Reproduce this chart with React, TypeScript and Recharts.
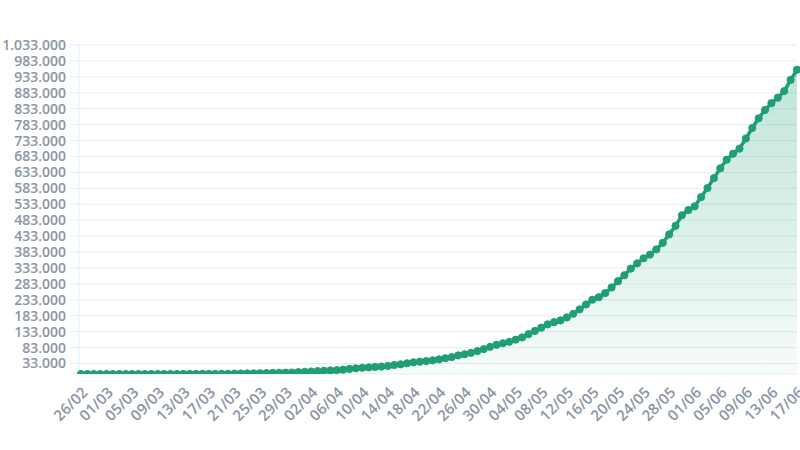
import { AreaChart, Area, XAxis, YAxis, CartesianGrid } from 'recharts'

const DATES = [
  '26/02', '27/02', '28/02', '29/02',
  '01/03', '02/03', '03/03', '04/03', '05/03', '06/03', '07/03', '08/03', '09/03', '10/03',
  '11/03', '12/03', '13/03', '14/03', '15/03', '16/03', '17/03', '18/03', '19/03', '20/03',
  '21/03', '22/03', '23/03', '24/03', '25/03', '26/03', '27/03', '28/03', '29/03', '30/03', '31/03',
  '01/04', '02/04', '03/04', '04/04', '05/04', '06/04', '07/04', '08/04', '09/04', '10/04',
  '11/04', '12/04', '13/04', '14/04', '15/04', '16/04', '17/04', '18/04', '19/04', '20/04',
  '21/04', '22/04', '23/04', '24/04', '25/04', '26/04', '27/04', '28/04', '29/04', '30/04',
  '01/05', '02/05', '03/05', '04/05', '05/05', '06/05', '07/05', '08/05', '09/05', '10/05',
  '11/05', '12/05', '13/05', '14/05', '15/05', '16/05', '17/05', '18/05', '19/05', '20/05',
  '21/05', '22/05', '23/05', '24/05', '25/05', '26/05', '27/05', '28/05', '29/05', '30/05', '31/05',
  '01/06', '02/06', '03/06', '04/06', '05/06', '06/06', '07/06', '08/06', '09/06', '10/06',
  '11/06', '12/06', '13/06', '14/06', '15/06', '16/06', '17/06',
]

const CASES = [
  1, 1, 1, 2,
  2, 2, 2, 4, 8, 13, 19, 20, 25, 31,
  52, 77, 98, 121, 200, 234, 291, 428, 621, 904,
  1128, 1546, 1891, 2201, 2433, 2915, 3417, 3904, 4256, 4579, 5717,
  6836, 7910, 9056, 10278, 11130, 12056, 13717, 15927, 17857, 19638,
  20727, 22169, 23430, 25262, 28320, 30425, 33682, 36599, 38654, 40581,
  43079, 45757, 49492, 52995, 58509, 61888, 66501, 71886, 78162, 85380,
  91589, 96559, 101147, 107780, 114715, 125218, 135106, 145328, 155939, 162699,
  168331, 177589, 188974, 202918, 218223, 233142, 241080, 254220, 271628, 291579,
  310087, 330890, 347398, 363211, 374898, 391222, 411821, 438238, 465166, 498440, 514849,
  526447, 555383, 584016, 614941, 645771, 672846, 691758, 707412, 739503, 772416,
  802828, 828810, 850514, 867624, 888271, 923189, 955377,
]

const Y_TICKS = [
  33000, 83000, 133000, 183000, 233000, 283000, 333000, 383000, 433000, 483000, 533000,
  583000, 633000, 683000, 733000, 783000, 833000, 883000, 933000, 983000, 1033000,
]

const data = DATES.map((d, i) => ({ date: d, cases: CASES[i] }))

const GREEN = '#1f9e77'
const GRID = '#e4edf8'
const LABEL = '#8a94a6'

const fmt = (v: number) => v.toLocaleString('de-DE')

export default function App() {
  return (
    <div style={{ position: 'absolute', left: 0, top: 0, width: 800, height: 450, background: '#fff' }}>
      <AreaChart width={800} height={450} data={data}
        margin={{ top: 45, right: 3, bottom: 0, left: 0 }}
        style={{ fontFamily: '"Open Sans", sans-serif' }}>
        <defs>
          <linearGradient id='fillGreen' x1='0' y1='0' x2='0' y2='1'>
            <stop offset='0%' stopColor={GREEN} stopOpacity={0.28} />
            <stop offset='100%' stopColor={GREEN} stopOpacity={0.04} />
          </linearGradient>
        </defs>
        <CartesianGrid vertical={false} stroke={GRID} />
        <XAxis dataKey='date' interval={3} padding={{ left: 2, right: 0 }}
          axisLine={false} tickLine={false} tickSize={0} tickMargin={12}
          height={76} angle={-45} textAnchor='end'
          tick={{ fill: LABEL, fontSize: 15, fontWeight: 600 }} />
        <YAxis domain={[0, 1033000]} ticks={Y_TICKS} interval={0} width={79}
          tickFormatter={fmt} allowDataOverflow
          axisLine={{ stroke: GRID }} tickLine={{ stroke: GRID }}
          tickSize={8} tickMargin={5}
          tick={{ fill: LABEL, fontSize: 14, fontWeight: 600 }} />
        <Area type='linear' dataKey='cases' stroke={GREEN} strokeWidth={3.5}
          fill='url(#fillGreen)' fillOpacity={1}
          dot={{ r: 3.6, fill: GREEN, stroke: GREEN, strokeWidth: 1 }}
          activeDot={false} isAnimationActive={false} />
      </AreaChart>
    </div>
  )
}
